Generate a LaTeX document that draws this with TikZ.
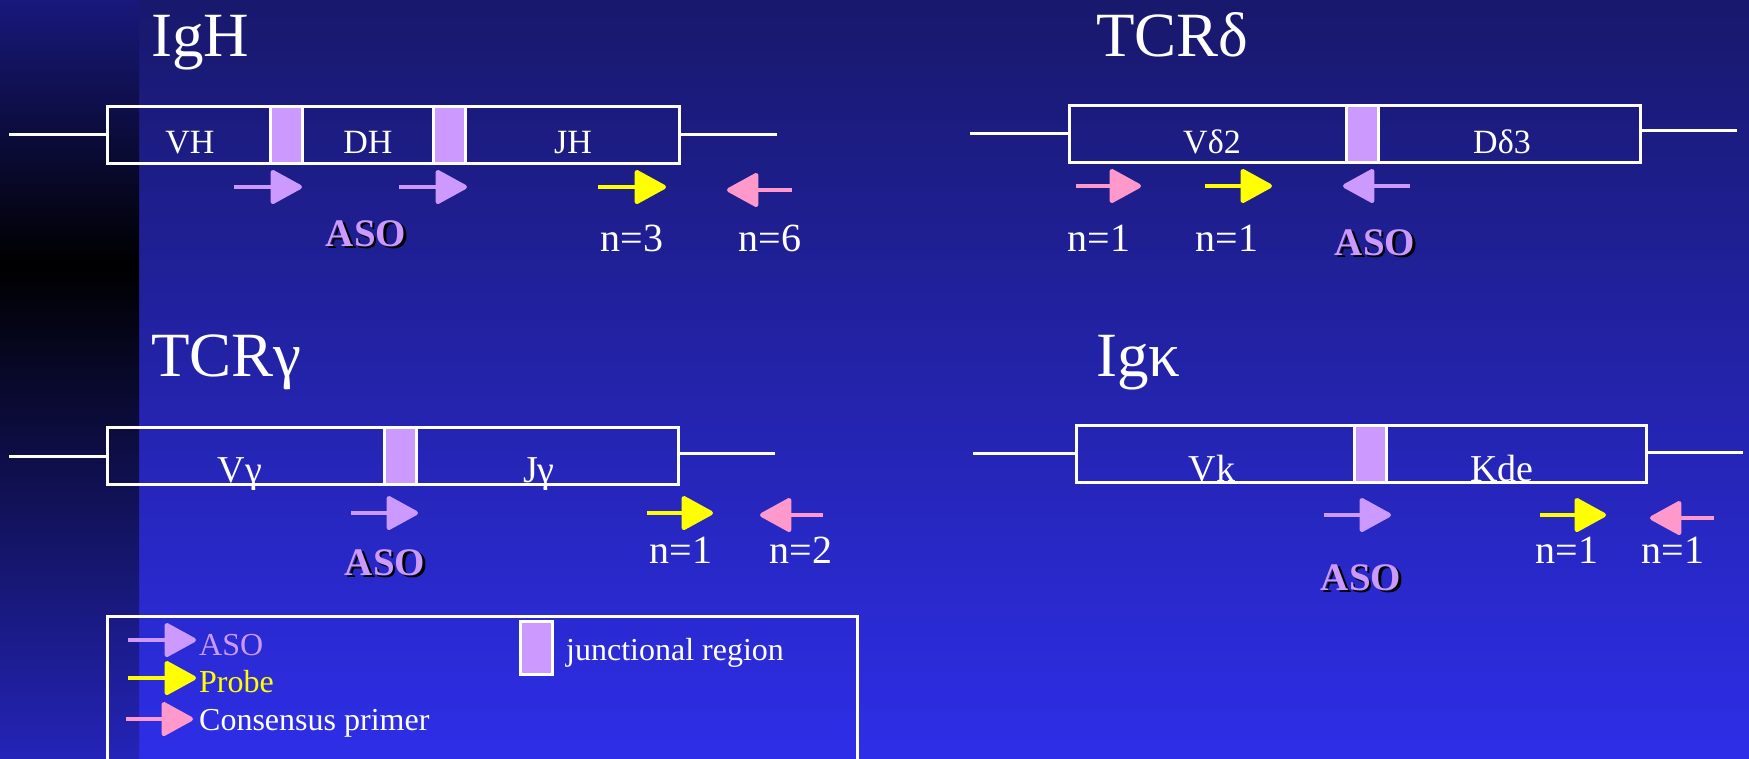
\documentclass[tikz,border=0pt]{standalone}
\usepackage{fontspec}
\setmainfont{Liberation Serif}
\usetikzlibrary{arrows.meta}
\definecolor{lav}{HTML}{CC99FF}
\definecolor{pk}{HTML}{FF99CC}
\definecolor{yl}{HTML}{FFFF00}
\definecolor{bgtop}{RGB}{24,24,108}
\definecolor{bgbot}{RGB}{46,46,232}
\definecolor{striptop}{RGB}{24,24,124}
\definecolor{stripbot}{RGB}{36,36,184}
\begin{document}
\begin{tikzpicture}[x=1pt,y=-1pt,
  gene/.style={draw=white, line width=3pt, inner sep=0pt, minimum height=57pt},
  junc/.style={draw=white, fill=lav, line width=3pt, inner sep=0pt, minimum height=57pt, minimum width=32pt},
  wire/.style={draw=white, line width=3pt},
  ar/.style={line width=4.5pt, -{Triangle[length=34pt,width=36pt,round]}},
  asoar/.style={ar, draw=lav, fill=lav},
  prar/.style={ar, draw=yl, fill=yl},
  csar/.style={ar, draw=pk, fill=pk},
  title/.style={text=white, anchor=base west, font=\fontsize{63}{70}\selectfont, inner sep=0pt},
  lbl/.style={text=white, anchor=base, font=\fontsize{34}{40}\selectfont, inner sep=0pt},
  lblb/.style={text=white, anchor=base, font=\fontsize{38}{44}\selectfont, inner sep=0pt},
  nlbl/.style={text=white, anchor=base, font=\fontsize{40}{46}\selectfont, inner sep=0pt},
  asol/.style={text=lav, anchor=base, font=\bfseries\fontsize{39}{46}\selectfont, inner sep=0pt},
  asosh/.style={asol, text=black},
  leg/.style={anchor=base west, font=\fontsize{32}{38}\selectfont, inner sep=0pt},
]
\useasboundingbox (0,0) rectangle (1749,758);
% background
\shade[top color=bgtop, bottom color=bgbot] (0,0) rectangle (1749,758);
\shade[top color=striptop, bottom color=black] (0,0) rectangle (139,265);
\shade[top color=black, bottom color=stripbot] (0,265) rectangle (139,758);

% titles
\node[title] (t1) at (151,56) {IgH};
\node[title] (t2) at (1096,56) {TCRδ};
\node[title] (t3) at (151,376) {TCRγ};
\node[title] (t4) at (1096,376) {Igκ};

% ---------- IgH ----------
\node[gene, minimum width=572pt] (igh) at (393,134.5) {};
\coordinate (ighL) at (9,134.5);
\coordinate (ighR) at (777,134.5);
\draw[wire] (ighL) -- (igh.west);
\draw[wire] (igh.east) -- (ighR);
\node[junc] (ighj1) at (286,134.5) {};
\node[junc] (ighj2) at (449,134.5) {};
\node[lbl] (ighv) at (190,153) {VH};
\node[lbl] (ighd) at (368,153) {DH};
\node[lbl] (ighjl) at (573,153) {JH};
\coordinate (ia1s) at (234,187); \coordinate (ia1e) at (302,187);
\coordinate (ia2s) at (399,187); \coordinate (ia2e) at (467,187);
\coordinate (ips) at (598,187); \coordinate (ipe) at (666,187);
\coordinate (ics) at (792,190); \coordinate (ice) at (727,190);
\draw[asoar] (ia1s) -- (ia1e);
\draw[asoar] (ia2s) -- (ia2e);
\draw[prar] (ips) -- (ipe);
\draw[csar] (ics) -- (ice);
\node[asosh] (ighasosh) at (368.5,248.5) {ASO};
\node[asol] (ighaso) at (366,246) {ASO};
\node[nlbl] (ighn3) at (632,251) {n=3};
\node[nlbl] (ighn6) at (770,251) {n=6};

% ---------- TCR delta ----------
\node[gene, minimum width=571pt] (tcrd) at (1354.5,134) {};
\coordinate (tcrdL) at (970,133);
\coordinate (tcrdR) at (1737,130);
\draw[wire] (tcrdL) -- (tcrd.west |- tcrdL);
\draw[wire] (tcrd.east |- tcrdR) -- (tcrdR);
\node[junc] (tcrdj) at (1362,134) {};
\node[lbl] (tcrdv) at (1212,153) {Vδ2};
\node[lbl] (tcrdd) at (1502,153) {Dδ3};
\coordinate (dcs) at (1076,186); \coordinate (dce) at (1141,186);
\coordinate (dps) at (1205,186); \coordinate (dpe) at (1272,186);
\coordinate (das) at (1410,186); \coordinate (dae) at (1343,186);
\draw[csar] (dcs) -- (dce);
\draw[prar] (dps) -- (dpe);
\draw[asoar] (das) -- (dae);
\node[nlbl] (tcrdn1) at (1099,251) {n=1};
\node[nlbl] (tcrdn2) at (1227,251) {n=1};
\node[asosh] (tcrdasosh) at (1377.5,257.5) {ASO};
\node[asol] (tcrdaso) at (1375,255) {ASO};

% ---------- TCR gamma ----------
\node[gene, minimum width=571pt] (tcrg) at (392.5,455.5) {};
\coordinate (tcrgL) at (9,456);
\coordinate (tcrgR) at (775,453);
\draw[wire] (tcrgL) -- (tcrg.west |- tcrgL);
\draw[wire] (tcrg.east |- tcrgR) -- (tcrgR);
\node[junc] (tcrgj) at (400.5,455.5) {};
\node[lblb] (tcrgv) at (240,482) {Vγ};
\node[lblb] (tcrgjl) at (539,482) {Jγ};
\coordinate (gas) at (351,513); \coordinate (gae) at (418,513);
\coordinate (gps) at (647,513); \coordinate (gpe) at (713,513);
\coordinate (gcs) at (823,515); \coordinate (gce) at (760,515);
\draw[asoar] (gas) -- (gae);
\draw[prar] (gps) -- (gpe);
\draw[csar] (gcs) -- (gce);
\node[asosh] (tcrgasosh) at (387.5,577.5) {ASO};
\node[asol] (tcrgaso) at (385,575) {ASO};
\node[nlbl] (tcrgn1) at (681,563) {n=1};
\node[nlbl] (tcrgn2) at (801,563) {n=2};

% ---------- Ig kappa ----------
\node[gene, minimum width=570pt] (igk) at (1361,453.5) {};
\coordinate (igkL) at (973,453);
\coordinate (igkR) at (1743,452);
\draw[wire] (igkL) -- (igk.west |- igkL);
\draw[wire] (igk.east |- igkR) -- (igkR);
\node[junc] (igkj) at (1370,453.5) {};
\node[lblb] (igkv) at (1212,481) {Vk};
\node[lblb] (igkk) at (1502,481) {Kde};
\coordinate (kas) at (1324,515); \coordinate (kae) at (1391,515);
\coordinate (kps) at (1540,515); \coordinate (kpe) at (1606,515);
\coordinate (kcs) at (1714,518); \coordinate (kce) at (1650,518);
\draw[asoar] (kas) -- (kae);
\draw[prar] (kps) -- (kpe);
\draw[csar] (kcs) -- (kce);
\node[asosh] (igkasosh) at (1363.5,592.5) {ASO};
\node[asol] (igkaso) at (1361,590) {ASO};
\node[nlbl] (igkn1) at (1567,563) {n=1};
\node[nlbl] (igkn2) at (1673,563) {n=1};

% ---------- legend ----------
\coordinate (lgA) at (107,762);
\coordinate (lgB) at (107,616);
\coordinate (lgC) at (857,616);
\coordinate (lgD) at (857,762);
\draw[wire] (lgA) -- (lgB) -- (lgC) -- (lgD);
\coordinate (las) at (128,640); \coordinate (lae) at (196,640);
\coordinate (lps) at (128,678); \coordinate (lpe) at (196,678);
\coordinate (lcs) at (126,719); \coordinate (lce) at (193,719);
\draw[asoar] (las) -- (lae);
\draw[prar] (lps) -- (lpe);
\draw[csar] (lcs) -- (lce);
\node[leg, text=lav] (legaso) at (199,655) {ASO};
\node[leg, text=yl] (legpr) at (199,692) {Probe};
\node[leg, text=white] (legcs) at (199,730) {Consensus primer};
\node[junc, minimum height=53pt] (legj) at (536,647.5) {};
\node[leg, text=white] (legjt) at (566,660) {junctional region};
\end{tikzpicture}
\end{document}
